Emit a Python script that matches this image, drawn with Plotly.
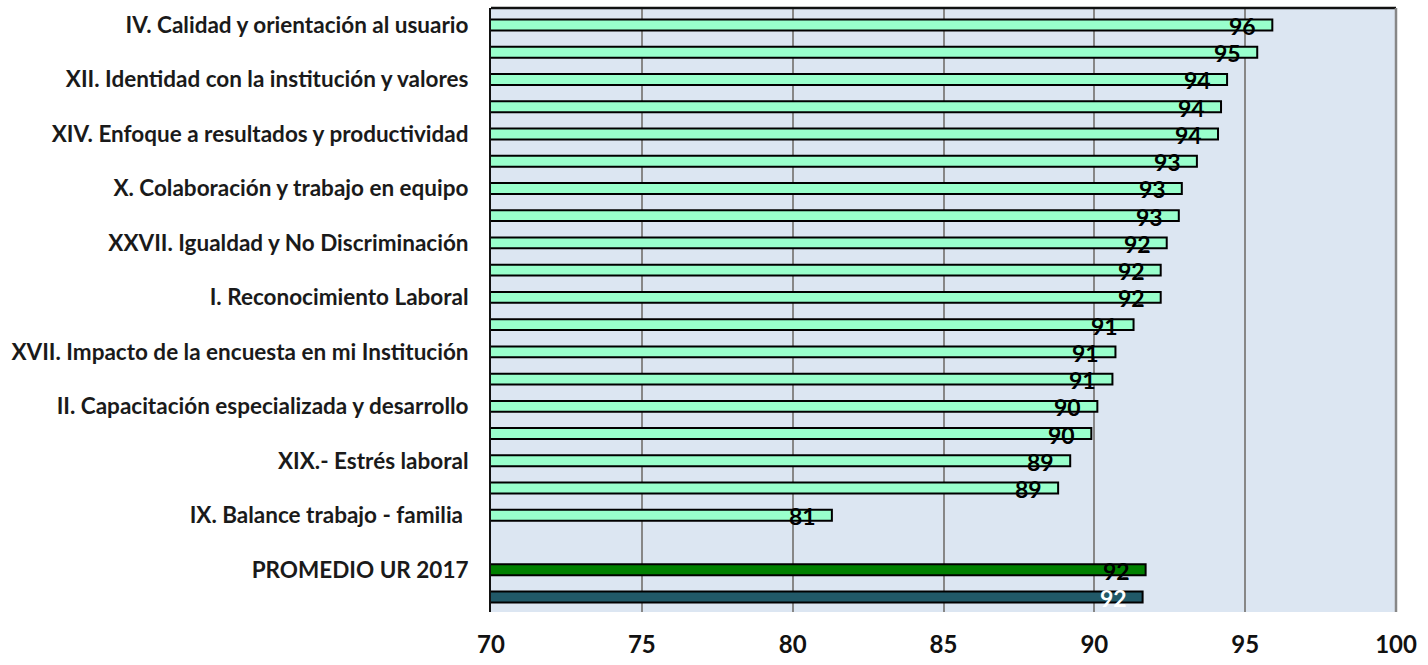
import plotly.graph_objects as go

# Factor scores, top to bottom
factores = [
    "IV. Calidad y orientación al usuario",
    "XI. Liderazgo y participación",
    "XII. Identidad con la institución y valores",
    "VIII. Calidad de vida laboral",
    "XIV. Enfoque a resultados y productividad",
    "III. Mejora y cambio",
    "X. Colaboración y trabajo en equipo",
    "VI. Comunicación",
    "XXVII. Igualdad y No Discriminación",
    "XIII. Austeridad y combate a la corrupción",
    "I. Reconocimiento Laboral",
    "VII. Disponibilidad de recursos",
    "XVII. Impacto de la encuesta en mi Institución",
    "V. Equidad y género",
    "II. Capacitación especializada y desarrollo",
    "XV. Normatividad y procesos",
    "XIX.- Estrés laboral",
    "XVI. Servicio profesional de carrera",
    "IX. Balance trabajo - familia\u00a0",
]
puntajes = [95.9, 95.4, 94.4, 94.2, 94.1, 93.4, 92.9, 92.8, 92.4, 92.2,
            92.2, 91.3, 90.7, 90.6, 90.1, 89.9, 89.2, 88.8, 81.3]

separador = " "
promedio_cat = ["PROMEDIO UR 2017"]
promedio_val = [91.7]
referencia_cat = ["PROMEDIO UR 2016"]
referencia_val = [91.6]

# Only every other category label is printed on the axis
etiquetas_visibles = factores[0::2] + promedio_cat

x_ticks = [70, 75, 80, 85, 90, 95, 100]

FONT = "Lato"
outline = dict(color="#000000", width=2)

fig = go.Figure()
fig.add_trace(go.Bar(
    y=factores + [separador], x=puntajes + [None], orientation="h",
    marker=dict(color="#99FFCC", line=outline), showlegend=False,
))
fig.add_trace(go.Bar(
    y=promedio_cat, x=promedio_val, orientation="h",
    marker=dict(color="#008000", line=outline), showlegend=False,
))
fig.add_trace(go.Bar(
    y=referencia_cat, x=referencia_val, orientation="h",
    marker=dict(color="#215968", line=outline), showlegend=False,
))

# Value labels at the inner end of each bar
def etiquetar(cats, vals, color):
    for c, v in zip(cats, vals):
        fig.add_annotation(
            x=v, y=c, text=f"<b>{v:.0f}</b>", showarrow=False,
            xanchor="right", yanchor="middle", xshift=-14, yshift=-1,
            font=dict(family=FONT, size=23, color=color),
        )

etiquetar(factores, puntajes, "#000000")
etiquetar(promedio_cat, promedio_val, "#000000")
etiquetar(referencia_cat, referencia_val, "#ffffff")

fig.update_layout(
    width=1428, height=665,
    margin=dict(l=491, r=32, t=8, b=53),
    paper_bgcolor="#ffffff",
    plot_bgcolor="#dce6f2",
    barmode="overlay",
    bargap=0.6,
    font=dict(family=FONT, color="#1a1a1a"),
    xaxis=dict(
        range=[70, 100], tickvals=x_ticks,
        ticktext=[f"<b>{t}</b>" for t in x_ticks],
        showgrid=True, gridcolor="#878787", gridwidth=2,
        zeroline=False, showline=False,
        tickfont=dict(family=FONT, size=24, color="#111111"),
        ticklabelstandoff=16, fixedrange=True,
    ),
    yaxis=dict(
        type="category", autorange="reversed",
        categoryorder="array",
        categoryarray=factores + [separador] + promedio_cat + referencia_cat,
        tickvals=etiquetas_visibles,
        ticktext=[f"<b>{t}</b>" for t in etiquetas_visibles],
        tickfont=dict(family=FONT, size=22.5, color="#1a1a1a"),
        showgrid=False, showline=True, linecolor="#111111", linewidth=2,
        ticks="", ticklabelstandoff=16, fixedrange=True,
    ),
    shapes=[
        dict(type="line", xref="paper", yref="paper", x0=0, x1=1, y0=1, y1=1,
             line=dict(color="#111111", width=2.5)),
        dict(type="line", xref="paper", yref="paper", x0=1, x1=1, y0=0, y1=1,
             line=dict(color="#878787", width=2.5)),
    ],
)

fig.write_html("out.html")
